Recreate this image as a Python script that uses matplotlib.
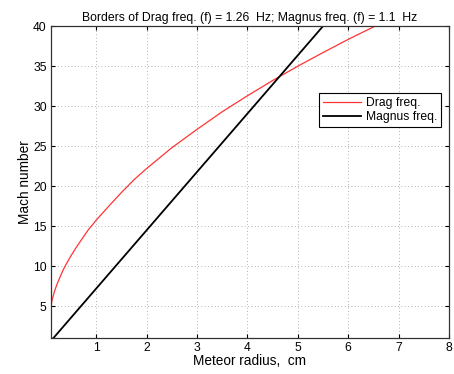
import numpy as np
import matplotlib
matplotlib.use('Agg')
import matplotlib.pyplot as plt

plt.rcParams['font.family'] = ['Liberation Sans', 'DejaVu Sans']

# Drag freq. border
radius_drag = [0.1, 0.13, 0.17, 0.22, 0.3, 0.35, 0.4, 0.5, 0.6, 0.75, 0.85, 0.95, 1.0,
               1.25, 1.5, 1.75, 2.0, 2.5, 3.0, 3.5, 4.0, 4.5, 5.0, 5.5, 6.0, 6.5, 6.65]
mach_drag = [5.0, 5.9, 6.8, 7.7, 8.9, 9.6, 10.2, 11.3, 12.3, 13.7, 14.6, 15.35, 15.75,
             17.5, 19.2, 20.8, 22.2, 24.8, 27.1, 29.3, 31.3, 33.2, 35.0, 36.7, 38.35, 39.9, 40.35]
# Magnus freq. border
radius_magnus = [0.15, 5.5]
mach_magnus = [1.0, 40.0]

xticks = [1, 2, 3, 4, 5, 6, 7, 8]
yticks = [5, 10, 15, 20, 25, 30, 35, 40]

fig = plt.figure(figsize=(4.54, 3.74), dpi=100)
ax = fig.add_axes([0.112, 0.096, 0.877, 0.834])
ax.plot(radius_drag, mach_drag, color='#ff3333', lw=0.9, label='Drag freq.')
ax.plot(radius_magnus, mach_magnus, color='black', lw=1.3, label='Magnus freq.')
ax.set_xlim(0.1, 8)
ax.set_ylim(1, 40)
ax.set_xticks(xticks)
ax.set_yticks(yticks)
ax.grid(True, linestyle=(0, (1, 3)), color='#999999', lw=0.6)
ax.tick_params(direction='in', labelsize=8.7, length=3, top=True, right=True, pad=3)
for s in ax.spines.values():
    s.set_linewidth(0.9)
    s.set_color('#333333')
ax.set_xlabel('Meteor radius,  cm', fontsize=9.8, labelpad=0)
ax.set_ylabel('Mach number', fontsize=9.8, labelpad=1)
ax.set_title('Borders of Drag freq. (f) = 1.26  Hz; Magnus freq. (f) = 1.1  Hz', fontsize=8.8, pad=4)
leg = ax.legend(loc='upper right', bbox_to_anchor=(0.98, 0.785), fontsize=8.7,
                fancybox=False, framealpha=1, edgecolor='black', borderpad=0.3,
                handlelength=3.2, handletextpad=0.4, labelspacing=0.2, borderaxespad=0)
leg.get_frame().set_linewidth(0.8)
fig.savefig('out.png', dpi=100)
